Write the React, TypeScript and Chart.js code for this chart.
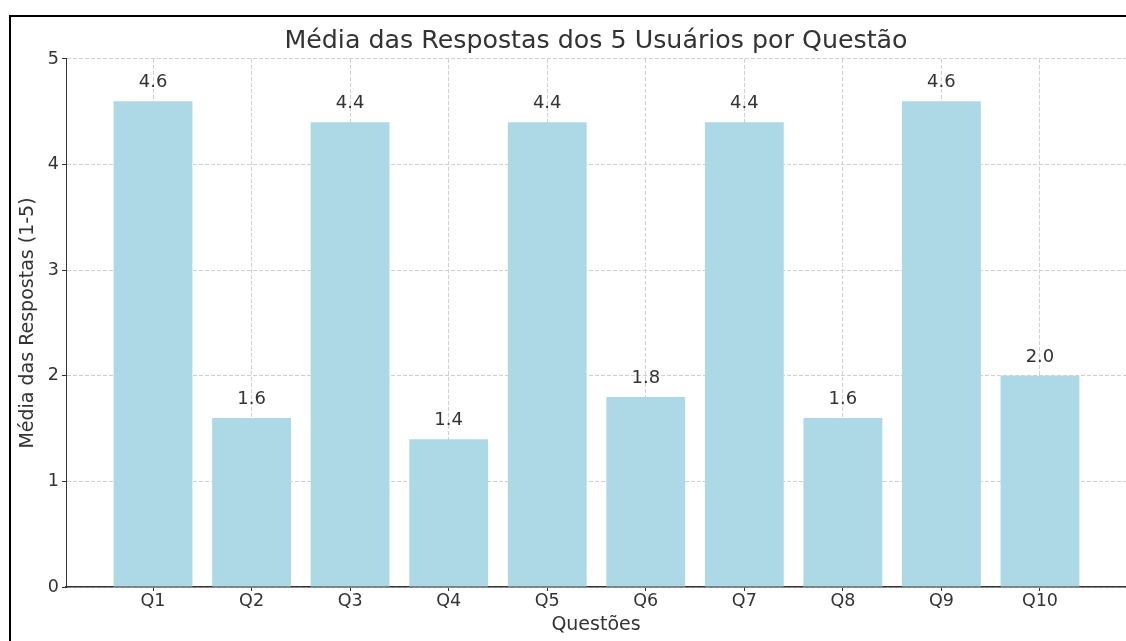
import React, { useEffect, useRef } from "react";
import { Chart, registerables } from "chart.js";

Chart.register(...registerables);

const categories = ["Q1", "Q2", "Q3", "Q4", "Q5", "Q6", "Q7", "Q8", "Q9", "Q10"];
const averages = [4.6, 1.6, 4.4, 1.4, 4.4, 1.8, 4.4, 1.6, 4.6, 2.0];
const yTicks = [0, 1, 2, 3, 4, 5];

const FONT = "'DejaVu Sans', sans-serif";
const TEXT = "#333333";

const framePlugin = {
  id: "frame",
  beforeDraw(chart: any) {
    const ctx = chart.ctx;
    ctx.save();
    ctx.fillStyle = "#ffffff";
    ctx.fillRect(0, 0, chart.width, chart.height);
    ctx.fillStyle = "#000000";
    ctx.fillRect(9, 15, 2, chart.height);
    ctx.fillRect(9, 15, chart.width, 2);
    ctx.restore();
  },
};

const valueLabels = {
  id: "valueLabels",
  afterDatasetsDraw(chart: any) {
    const ctx = chart.ctx;
    const meta = chart.getDatasetMeta(0);
    ctx.save();
    ctx.font = `18px ${FONT}`;
    ctx.fillStyle = TEXT;
    ctx.textAlign = "center";
    ctx.textBaseline = "alphabetic";
    meta.data.forEach((bar: any, i: number) => {
      ctx.fillText(averages[i].toFixed(1), bar.x, bar.y - 14);
    });
    ctx.restore();
  },
};

const gridOpts = {
  color: "#d0d0d0",
  lineWidth: 1,
  offset: false,
  tickLength: 4,
  tickColor: TEXT,
  tickWidth: 1,
};

export default function App() {
  const ref = useRef<HTMLCanvasElement>(null);

  useEffect(() => {
    if (!ref.current) return;
    const chart = new Chart(ref.current, {
      type: "bar",
      data: {
        datasets: [
          {
            data: averages.map((v, i) => ({ x: i, y: v })),
            backgroundColor: "#ADD8E6",
            borderWidth: 0,
            categoryPercentage: 1,
            barPercentage: 0.8,
          },
        ],
      },
      plugins: [framePlugin, valueLabels],
      options: {
        responsive: false,
        animation: false,
        layout: { padding: { left: 0, right: 0, top: 0, bottom: 0 } },
        plugins: {
          legend: { display: false },
          tooltip: { enabled: false },
          title: {
            display: true,
            fullSize: false,
            text: "Média das Respostas dos 5 Usuários por Questão",
            color: TEXT,
            font: { family: FONT, size: 25.3, weight: "normal" },
            padding: { top: 26, bottom: 2.6 },
          },
        },
        scales: {
          x: {
            type: "linear",
            min: -0.883,
            max: 9.873,
            offset: false,
            z: 1,
            afterBuildTicks: (scale: any) => {
              scale.ticks = categories.map((_, i) => ({ value: i }));
            },
            afterFit: (scale: any) => {
              scale.height = 54;
            },
            ticks: {
              color: TEXT,
              font: { family: FONT, size: 17.5 },
              padding: 0,
              autoSkip: false,
              maxRotation: 0,
              callback: (v: any) => categories[Math.round(v)] ?? "",
            },
            grid: gridOpts as any,
            border: { display: true, color: TEXT, width: 1.5, dash: [4, 2] } as any,
            title: {
              display: true,
              text: "Questões",
              color: TEXT,
              font: { family: FONT, size: 19 },
              padding: { top: 0, bottom: 5 },
            },
          },
          y: {
            min: 0,
            max: 5,
            z: 1,
            afterBuildTicks: (scale: any) => {
              scale.ticks = yTicks.map((v) => ({ value: v }));
            },
            afterFit: (scale: any) => {
              scale.width = 66;
            },
            ticks: {
              color: TEXT,
              font: { family: FONT, size: 17.5 },
              padding: 3,
            },
            grid: gridOpts as any,
            border: { display: true, color: TEXT, width: 1, dash: [4, 2] } as any,
            title: {
              display: true,
              text: "Média das Respostas (1-5)",
              color: TEXT,
              font: { family: FONT, size: 19 },
              padding: { top: 17, bottom: 0 },
            },
          },
        },
      },
    });
    return () => chart.destroy();
  }, []);

  return (
    <div style={{ position: "fixed", left: 0, top: 0, width: 1126, height: 641, background: "#fff" }}>
      <canvas ref={ref} width={1126} height={641} style={{ display: "block" }} />
    </div>
  );
}
